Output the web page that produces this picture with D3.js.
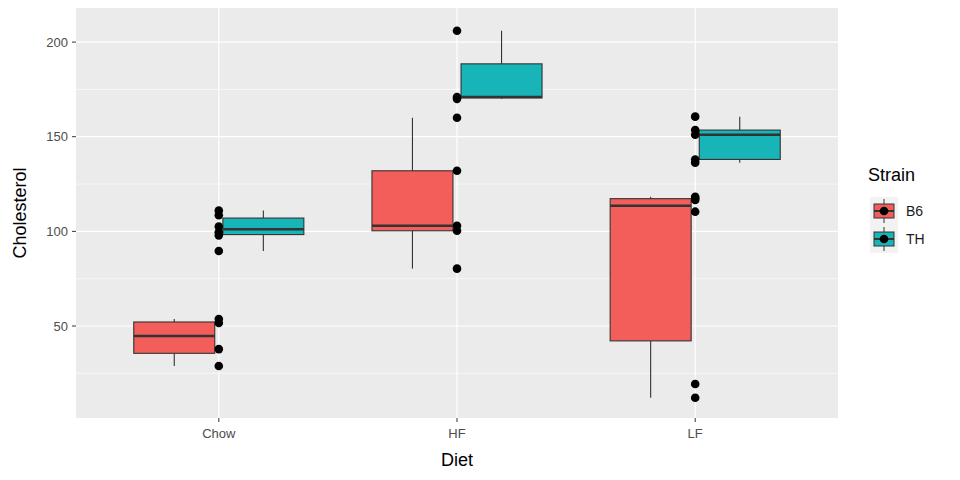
<!DOCTYPE html>
<html><head><meta charset="utf-8">
<script src="https://cdn.jsdelivr.net/npm/d3@7"></script>
<style>body{margin:0;background:#fff}text{font-family:"Liberation Sans",Arial,sans-serif}</style>
</head><body>
<script>
const diets = ["Chow", "HF", "LF"];
const strains = ["B6", "TH"];
const colors = ["#F8766D", "#00BFC4"];
const fills = ["#F35E5A", "#17B5B7"];
// cholesterol values per diet, per strain
const chowB6 = [28.9, 37.8, 51.6, 53.7];
const chowTH = [89.6, 97.9, 99.5, 102.6, 108.5, 111];
const hfB6 = [80.3, 100.3, 103, 132, 160];
const hfTH = [170, 171, 206];
const lfB6 = [12.1, 19.4, 110.4, 116.6, 117.5, 118.3];
const lfTH = [136.3, 138, 151, 153.5, 160.6];
const yTicks = [50, 100, 150, 200];
const yMinor = [25, 75, 125, 175];

const groups = [
  {diet: "Chow", strain: 0, vals: chowB6}, {diet: "Chow", strain: 1, vals: chowTH},
  {diet: "HF", strain: 0, vals: hfB6}, {diet: "HF", strain: 1, vals: hfTH},
  {diet: "LF", strain: 0, vals: lfB6}, {diet: "LF", strain: 1, vals: lfTH}
];

const width = 960, height = 480;
const pl = 76, pr = 838, pt = 8, pb = 418;

const svg = d3.select("body").append("svg").attr("width", width).attr("height", height);

// discrete scale with ggplot's 0.6 expansion
const x = d3.scalePoint().domain(diets).range([pl + 0.6 * 238, pr - 0.6 * 238]);
const unit = x.step();
const y = d3.scaleLinear().domain([1.4, 218]).range([pb, pt]);

svg.append("rect").attr("x", pl).attr("y", pt).attr("width", pr - pl).attr("height", pb - pt).attr("fill", "#EBEBEB");
svg.selectAll(".minor").data(yMinor).enter().append("line")
  .attr("x1", pl).attr("x2", pr).attr("y1", d => y(d)).attr("y2", d => y(d))
  .attr("stroke", "#fff").attr("stroke-width", 0.6);
svg.selectAll(".major").data(yTicks).enter().append("line")
  .attr("x1", pl).attr("x2", pr).attr("y1", d => y(d)).attr("y2", d => y(d))
  .attr("stroke", "#fff").attr("stroke-width", 1.2);
svg.selectAll(".vmaj").data(diets).enter().append("line")
  .attr("y1", pt).attr("y2", pb).attr("x1", d => x(d)).attr("x2", d => x(d))
  .attr("stroke", "#fff").attr("stroke-width", 1.2);

const boxW = 0.34 * unit, off = 0.187 * unit;
groups.forEach(g => {
  const s = g.vals.slice().sort(d3.ascending);
  const q1 = d3.quantile(s, 0.25), med = d3.quantile(s, 0.5), q3 = d3.quantile(s, 0.75);
  const iqr = q3 - q1;
  const lo = d3.min(s.filter(v => v >= q1 - 1.5 * iqr));
  const hi = d3.max(s.filter(v => v <= q3 + 1.5 * iqr));
  const cx = x(g.diet) + (g.strain ? off : -off);
  const gg = svg.append("g");
  gg.append("line").attr("x1", cx).attr("x2", cx).attr("y1", y(hi)).attr("y2", y(q3)).attr("stroke", "#333").attr("stroke-width", 1.1);
  gg.append("line").attr("x1", cx).attr("x2", cx).attr("y1", y(q1)).attr("y2", y(lo)).attr("stroke", "#333").attr("stroke-width", 1.1);
  gg.append("rect").attr("x", cx - boxW / 2).attr("width", boxW).attr("y", y(q3)).attr("height", y(q1) - y(q3))
    .attr("fill", fills[g.strain]).attr("stroke", "#333").attr("stroke-width", 1.1);
  gg.append("line").attr("x1", cx - boxW / 2).attr("x2", cx + boxW / 2).attr("y1", y(med)).attr("y2", y(med))
    .attr("stroke", "#333").attr("stroke-width", 2.5);
});
groups.forEach(g => {
  svg.selectAll(null).data(g.vals).enter().append("circle")
    .attr("cx", x(g.diet)).attr("cy", d => y(d)).attr("r", 4.3).attr("fill", "#000");
});

// axes
svg.selectAll(".yt").data(yTicks).enter().append("text")
  .attr("x", pl - 8).attr("y", d => y(d) + 4.5).attr("text-anchor", "end")
  .attr("font-size", 13).attr("fill", "#4D4D4D").text(d => d);
svg.selectAll(".ytk").data(yTicks).enter().append("line")
  .attr("x1", pl - 4).attr("x2", pl).attr("y1", d => y(d)).attr("y2", d => y(d)).attr("stroke", "#333");
svg.selectAll(".xt").data(diets).enter().append("text")
  .attr("x", d => x(d)).attr("y", pb + 20).attr("text-anchor", "middle")
  .attr("font-size", 13).attr("fill", "#4D4D4D").text(d => d);
svg.selectAll(".xtk").data(diets).enter().append("line")
  .attr("x1", d => x(d)).attr("x2", d => x(d)).attr("y1", pb).attr("y2", pb + 4).attr("stroke", "#333");
svg.append("text").attr("x", (pl + pr) / 2).attr("y", 466).attr("text-anchor", "middle")
  .attr("font-size", 18).text("Diet");
svg.append("text").attr("transform", `translate(26,${(pt + pb) / 2}) rotate(-90)`).attr("text-anchor", "middle")
  .attr("font-size", 18).text("Cholesterol");

// legend
svg.append("text").attr("x", 868).attr("y", 181).attr("font-size", 18).text("Strain");
strains.forEach((s, i) => {
  const ky = 197 + i * 28, kx = 870;
  const lg = svg.append("g");
  lg.append("rect").attr("x", kx).attr("y", ky).attr("width", 28).attr("height", 28).attr("fill", "#F2F2F2");
  lg.append("line").attr("x1", kx + 14).attr("x2", kx + 14).attr("y1", ky + 2).attr("y2", ky + 26).attr("stroke", "#333");
  lg.append("rect").attr("x", kx + 4).attr("y", ky + 7).attr("width", 20).attr("height", 14)
    .attr("fill", fills[i]).attr("stroke", "#333");
  lg.append("line").attr("x1", kx + 4).attr("x2", kx + 24).attr("y1", ky + 14).attr("y2", ky + 14).attr("stroke", "#333").attr("stroke-width", 2);
  lg.append("circle").attr("cx", kx + 14).attr("cy", ky + 14).attr("r", 4.3).attr("fill", "#000");
  lg.append("text").attr("x", kx + 36).attr("y", ky + 19).attr("font-size", 14).attr("fill", "#1a1a1a").text(s);
});
</script>
</body></html>
